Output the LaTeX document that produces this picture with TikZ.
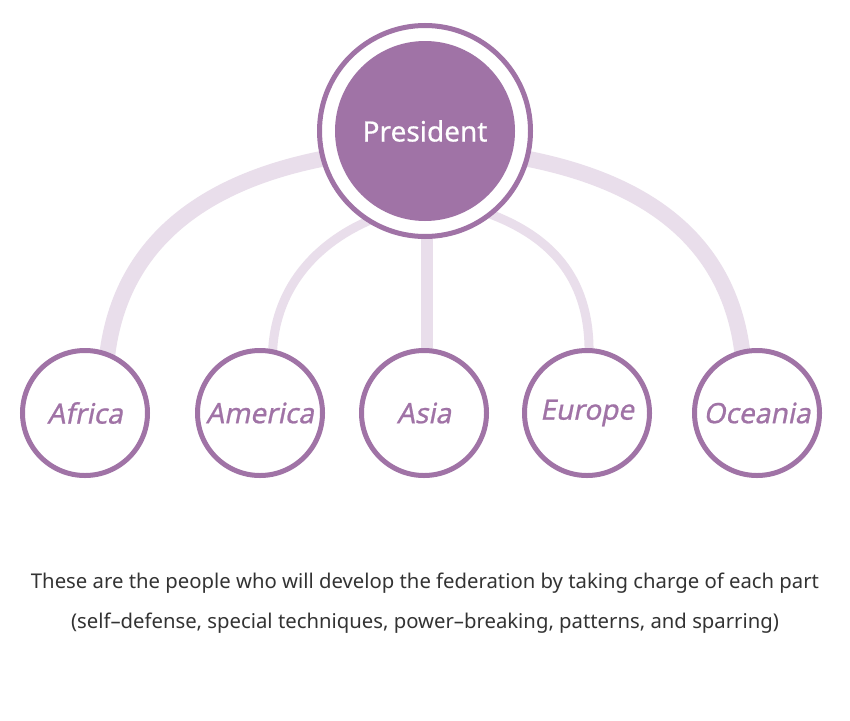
\documentclass[tikz,border=0pt]{standalone}
\usepackage{fontspec}
\setmainfont{Noto Sans}
\newfontfamily\slantfont[FakeSlant=0.2,FakeBold=0.8]{Noto Sans}
\newfontfamily\presfont[FakeBold=0.6]{Noto Sans}
\definecolor{purp}{HTML}{A073A6}
\definecolor{lightpurp}{HTML}{E9DEEB}
\definecolor{txtgray}{HTML}{333333}
\tikzset{
  region/.style={circle, draw=purp, line width=5pt, fill=white, minimum size=125pt, inner sep=0pt,
    text=purp, font=\slantfont\fontsize{28}{32}\selectfont},
  presring/.style={circle, draw=purp, line width=5pt, fill=white, minimum size=211pt, inner sep=0pt},
  presfill/.style={circle, fill=purp, minimum size=180pt, inner sep=0pt, text=white,
    font=\presfont\fontsize{28}{32}\selectfont},
  wideconn/.style={draw=lightpurp, line width=16pt, shorten <=-14pt, shorten >=-14pt},
  thinconn/.style={draw=lightpurp, line width=9pt, shorten <=-10pt, shorten >=-10pt},
  midconn/.style={draw=lightpurp, line width=12pt, shorten <=-10pt, shorten >=-10pt},
  caption/.style={anchor=base, text=txtgray, font=\fontsize{20.3}{24}\selectfont, inner sep=0pt}
}
\begin{document}
\begin{tikzpicture}[x=1pt, y=-1pt]
\useasboundingbox[fill=white] (0,0) rectangle (850,720);
% anchor nodes (invisible; redrawn on top later)
\path
  node[region, draw=none, fill=none] (africa)  at (85,413) {}
  node[region, draw=none, fill=none] (america) at (260,413) {}
  node[region, draw=none, fill=none] (asia)    at (424,413) {}
  node[region, draw=none, fill=none] (europe)  at (587,413) {}
  node[region, draw=none, fill=none] (oceania) at (757,413) {}
  node[presring, draw=none, fill=none] (pres) at (425,131) {};
% connectors
\draw[wideconn] (africa.70) .. controls +(8.6,-104) and +(-123,21.7) .. (pres.195);
\draw[wideconn] (oceania.103) .. controls +(-8.6,-104) and +(123,21.7) .. (pres.345);
\draw[thinconn] (america.79) .. controls +(0,-60) and +(-50,20) .. (pres.237);
\draw[thinconn] (europe.88) .. controls +(2,-65) and +(63,22) .. (pres.309);
\draw[midconn] ([xshift=3pt]asia.north) -- ([xshift=2pt]pres.south);
% circles on top
\node[presring] (presring) at (pres.center) {};
\node[presfill] (presin) at (pres.center) {President};
\node[region] (africaR)  at (africa.center)  {Africa};
\node[region] (americaR) at (america.center) {America};
\node[region] (asiaR)    at (asia.center)    {Asia};
\node[region] (europeR)  at (europe.center)  {Europe};
\node[region] (oceaniaR) at (oceania.center) {Oceania};
% caption
\node[caption] (line1) at (425,588) {These are the people who will develop the federation by taking charge of each part};
\node[caption] (line2) at (425,628) {(self–defense, special techniques, power–breaking, patterns, and sparring)};
\end{tikzpicture}
\end{document}
